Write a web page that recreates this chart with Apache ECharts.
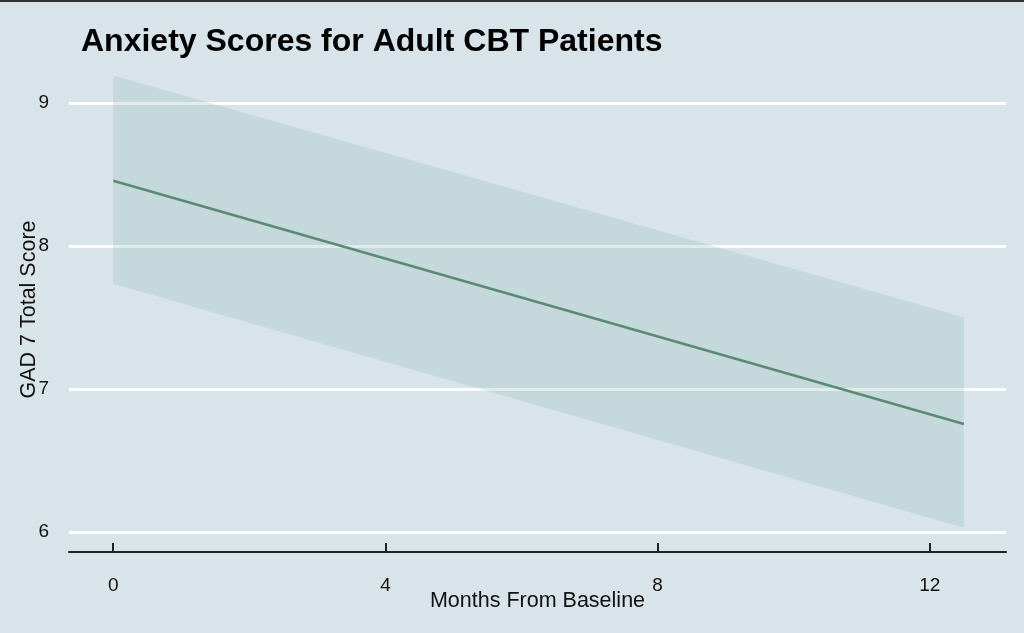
<!DOCTYPE html>
<html>
<head>
<meta charset="utf-8">
<script src="https://cdn.jsdelivr.net/npm/echarts@6/dist/echarts.min.js"></script>
<style>
html,body{margin:0;padding:0;background:#d8e4ea;}
#chart{width:1024px;height:633px;}
</style>
</head>
<body>
<div id="chart"></div>
<script>
// Data
const months = [0, 12.5];
const fitted = [8.455, 6.755];
const ciLower = [7.735, 6.03];
const ciUpper = [9.19, 7.50];
const xTicks = [0, 4, 8, 12];
const yTicks = [6, 7, 8, 9];

const bandData = months.map((m, i) => [m, ciLower[i], ciUpper[i]]);
const lineData = months.map((m, i) => [m, fitted[i]]);

const chart = echarts.init(document.getElementById('chart'));
const font = '"Liberation Sans", Arial, sans-serif';
chart.setOption({
  backgroundColor: '#d8e4ea',
  animation: false,
  textStyle: { fontFamily: font },
  title: {
    text: 'Anxiety Scores for Adult CBT Patients',
    left: 76, top: 21,
    textStyle: { fontFamily: font, fontWeight: 'bold', fontSize: 32, color: '#000' }
  },
  graphic: [{ type: 'rect', shape: { x: 0, y: 0, width: 1024, height: 2 }, style: { fill: '#333' } }],
  grid: { left: 69, right: 18, top: 67, bottom: 81, containLabel: false },
  xAxis: {
    type: 'value', min: -0.65, max: 13.12,
    name: 'Months From Baseline', nameLocation: 'middle', nameGap: 38, nameMoveOverlap: false,
    nameTextStyle: { fontSize: 21.5, color: '#111', fontFamily: font },
    axisLine: { show: true, onZero: false, lineStyle: { color: '#222', width: 2 } },
    axisTick: { show: true, inside: true, length: 9, customValues: xTicks, lineStyle: { color: '#222', width: 2 } },
    axisLabel: { customValues: xTicks, fontSize: 19, color: '#111', margin: 24, fontFamily: font },
    splitLine: { show: false }
  },
  yAxis: {
    type: 'value', min: 5.86, max: 9.25,
    name: 'GAD 7 Total Score', nameLocation: 'middle', nameGap: 29, nameMoveOverlap: false,
    nameTextStyle: { fontSize: 21.5, color: '#111', fontFamily: font },
    axisLine: { show: false },
    axisTick: { show: false, customValues: yTicks },
    axisLabel: { customValues: yTicks, fontSize: 19, color: '#111', margin: 20, fontFamily: font },
    splitLine: { show: true, lineStyle: { color: '#ffffff', width: 3 } }
  },
  series: [
    {
      type: 'custom', silent: true, clip: true,
      data: [0],
      renderItem: function (params, api) {
        const upper = bandData.map(d => api.coord([d[0], d[2]]));
        const lower = bandData.slice().reverse().map(d => api.coord([d[0], d[1]]));
        return {
          type: 'polygon',
          shape: { points: upper.concat(lower) },
          style: { fill: 'rgba(153,188,184,0.3)' }
        };
      },
      z: 3
    },
    { type: 'line', data: lineData, symbol: 'none', lineStyle: { color: '#5a8a73', width: 2.5 }, z: 4 }
  ]
});
</script>
</body>
</html>
